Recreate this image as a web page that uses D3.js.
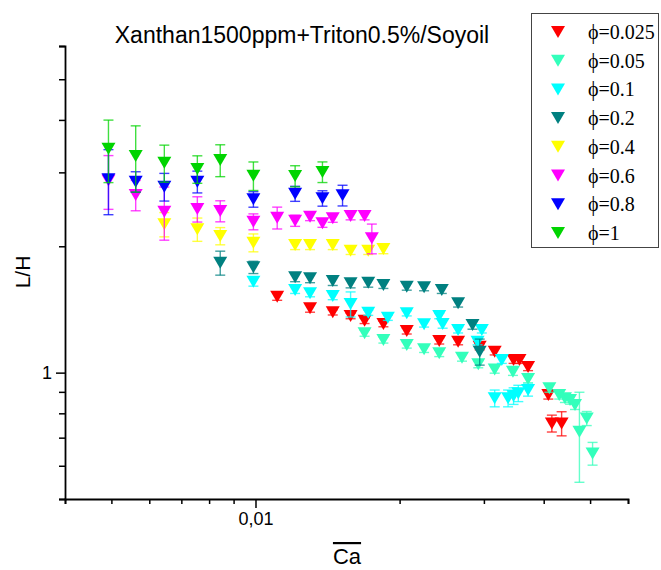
<!DOCTYPE html>
<html>
<head>
<meta charset="utf-8">
<script src="https://cdn.jsdelivr.net/npm/d3@7"></script>
<style>
  body { margin: 0; background: #fff; }
  svg { display: block; }
</style>
</head>
<body>
<div class="svg-container"></div>
<script>
// ---- data ----
var phiLabels = ["ϕ=0.025", "ϕ=0.05", "ϕ=0.1", "ϕ=0.2", "ϕ=0.4", "ϕ=0.6", "ϕ=0.8", "ϕ=1"];
var phiColors = ["#ff0000", "#33ffbb", "#00ffff", "#008080", "#ffff00", "#ff00ff", "#0000ff", "#00d400"];

var ca025 = [0.0111, 0.0130, 0.0145, 0.0158, 0.0169, 0.0185, 0.0207, 0.0242, 0.0265, 0.0294, 0.0316, 0.0346, 0.0356, 0.0371, 0.0409, 0.0416, 0.0436];
var lh025 = [1.517, 1.423, 1.392, 1.364, 1.329, 1.306, 1.256, 1.190, 1.185, 1.153, 1.122, 1.072, 1.072, 1.031, 0.885, 0.757, 0.757];
var err025 = [0.03, 0.03, 0.02, 0.02, 0.02, 0.02, 0.02, 0.02, 0.02, 0.02, 0.02, 0.02, 0.02, 0.02, 0.02, 0.035, 0.05];

var ca05 = [0.0169, 0.0185, 0.0207, 0.0225, 0.0242, 0.0270, 0.0292, 0.0316, 0.0345, 0.0371, 0.0411, 0.0431, 0.0443, 0.0454, 0.0465, 0.0475, 0.0492, 0.0506];
var lh05 = [1.241, 1.196, 1.164, 1.137, 1.112, 1.085, 1.047, 1.017, 1.005, 0.966, 0.918, 0.885, 0.869, 0.861, 0.837, 0.723, 0.778, 0.642];
var err05 = [0.02, 0.02, 0.02, 0.02, 0.02, 0.02, 0.02, 0.02, 0.02, 0.02, 0.02, 0.02, 0.02, 0.02, 0.02, 0.175, 0.03, 0.04];

var ca1 = [0.00990, 0.0121, 0.0130, 0.0145, 0.0158, 0.0172, 0.0189, 0.0207, 0.0225, 0.0242, 0.0246, 0.0265, 0.0291, 0.0297, 0.0327, 0.0316, 0.0337, 0.0346, 0.0354, 0.0371];
var lh1 = [1.647, 1.574, 1.546, 1.522, 1.457, 1.389, 1.352, 1.385, 1.304, 1.364, 1.306, 1.263, 1.185, 1.263, 1.072, 0.869, 0.869, 0.880, 0.893, 0.909];
var err1 = [0.04, 0.03, 0.03, 0.03, 0.10, 0.02, 0.02, 0.02, 0.02, 0.02, 0.03, 0.02, 0.02, 0.02, 0.02, 0.04, 0.04, 0.04, 0.04, 0.03];

var ca2 = [0.00844, 0.00990, 0.0121, 0.0130, 0.0145, 0.0158, 0.0172, 0.0185, 0.0207, 0.0225, 0.0245, 0.0265, 0.0284, 0.0294];
var lh2 = [1.827, 1.782, 1.687, 1.678, 1.653, 1.632, 1.638, 1.617, 1.602, 1.597, 1.574, 1.463, 1.299, 1.122];
var err2 = [0.12, 0.06, 0.04, 0.04, 0.04, 0.04, 0.04, 0.03, 0.03, 0.03, 0.03, 0.03, 0.03, 0.08];

var ca4 = [0.00645, 0.00756, 0.00844, 0.00990, 0.0121, 0.0130, 0.0145, 0.0158, 0.0172, 0.0185];
var lh4 = [2.256, 2.195, 2.116, 2.040, 2.014, 2.014, 2.014, 1.952, 1.952, 1.970];
var err4 = [0.15, 0.14, 0.10, 0.10, 0.05, 0.05, 0.05, 0.04, 0.04, 0.05];

var ca6 = [0.00493, 0.00562, 0.00645, 0.00756, 0.00844, 0.00990, 0.0111, 0.0121, 0.0130, 0.0138, 0.0145, 0.0158, 0.0169, 0.0175];
var lh6 = [2.869, 2.650, 2.418, 2.454, 2.427, 2.289, 2.339, 2.301, 2.352, 2.269, 2.331, 2.362, 2.362, 2.089];
var err6 = [0.42, 0.22, 0.35, 0.17, 0.14, 0.10, 0.14, 0.07, 0.05, 0.05, 0.05, 0.05, 0.05, 0.17];

var ca8 = [0.00493, 0.00562, 0.00645, 0.00756, 0.00990, 0.0121, 0.0138, 0.0152];
var lh8 = [2.888, 2.850, 2.773, 2.850, 2.588, 2.669, 2.602, 2.645];
var err8 = [0.51, 0.16, 0.21, 0.17, 0.11, 0.11, 0.11, 0.15];

var ca10 = [0.00493, 0.00562, 0.00645, 0.00756, 0.00844, 0.00990, 0.0121, 0.0138];
var lh10 = [3.416, 3.282, 3.163, 3.055, 3.210, 2.946, 2.941, 3.007];
var err10 = [0.58, 0.59, 0.32, 0.23, 0.28, 0.23, 0.17, 0.17];

var xTicks = [0.004, 0.005, 0.006, 0.007, 0.008, 0.009, 0.01, 0.02, 0.03, 0.04, 0.05, 0.06];
var yTicks = [0.5, 0.6, 0.7, 0.8, 0.9, 1, 2, 3, 4, 5, 6];

// build series table
var allCa = [ca025, ca05, ca1, ca2, ca4, ca6, ca8, ca10];
var allLh = [lh025, lh05, lh1, lh2, lh4, lh6, lh8, lh10];
var allErr = [err025, err05, err1, err2, err4, err6, err8, err10];
var series = phiLabels.map(function(lab, i) {
  return {
    name: lab,
    color: phiColors[i],
    points: allCa[i].map(function(c, j) { return {ca: c, lh: allLh[i][j], err: allErr[i][j]}; })
  };
});

var W = 661, H = 570;
var svg = d3.select(".svg-container").append("svg")
  .attr("width", W).attr("height", H);

// scales (log both ways)
var x = d3.scaleLog().domain([0.004, 0.06]).range([65, 628]);
var y = d3.scaleLog().domain([0.5, 6]).range([499, 46]);

// x axis
var gx = svg.append("g")
  .attr("transform", "translate(0,499)")
  .call(d3.axisBottom(x).tickValues(xTicks).tickSizeOuter(0).tickSize(5)
    .tickFormat(function(d) { return d === 0.01 ? "0,01" : ""; }));
gx.select(".domain").attr("stroke-width", 1.8);
gx.selectAll(".tick line").attr("stroke-width", 1.5)
  .attr("y2", function(d) { return d === 0.01 ? 9 : 5; });
gx.selectAll(".tick text").attr("y", 13)
  .style("font-family", "Arial, 'Liberation Sans', sans-serif").style("font-size", "18px").attr("fill", "#000");

// y axis
var gy = svg.append("g")
  .attr("transform", "translate(65,0)")
  .call(d3.axisLeft(y).tickValues(yTicks).tickSizeOuter(0).tickSize(6)
    .tickFormat(function(d) { return d === 1 ? "1" : ""; }));
gy.select(".domain").attr("stroke-width", 1.8);
gy.selectAll(".tick line").attr("stroke-width", 1.5)
  .attr("x2", function(d) { return d === 1 ? -9 : -6; });
gy.selectAll(".tick text").attr("x", -13)
  .style("font-family", "Arial, 'Liberation Sans', sans-serif").style("font-size", "18px").attr("fill", "#000");

// axis titles
svg.append("text")
  .attr("transform", "translate(30,272) rotate(-90)")
  .style("text-anchor", "middle")
  .style("font-family", "Arial, 'Liberation Sans', sans-serif").style("font-size", "21px")
  .text("L/H");

svg.append("text")
  .attr("x", 347).attr("y", 564)
  .style("text-anchor", "middle")
  .style("font-family", "Arial, 'Liberation Sans', sans-serif").style("font-size", "22px")
  .style("text-decoration", "overline")
  .text("Ca");

// title
svg.append("text")
  .attr("x", 302).attr("y", 43)
  .style("text-anchor", "middle")
  .style("font-family", "Arial, 'Liberation Sans', sans-serif").style("font-size", "23px")
  .text("Xanthan1500ppm+Triton0.5%/Soyoil");

// down triangle marker
var tri = "M-7,-6L7,-6L0,6Z";

// draw each series: error bars then markers
series.forEach(function(s) {
  var g = svg.append("g").attr("class", "series");

  var eb = g.selectAll(".err").data(s.points).enter().append("g")
    .attr("class", "err")
    .attr("stroke", s.color)
    .attr("stroke-opacity", 0.75)
    .attr("stroke-width", 1.4);
  eb.append("line")
    .attr("x1", function(d) { return x(d.ca); })
    .attr("x2", function(d) { return x(d.ca); })
    .attr("y1", function(d) { return y(d.lh + d.err); })
    .attr("y2", function(d) { return y(d.lh - d.err); });
  eb.append("line")
    .attr("x1", function(d) { return x(d.ca) - 5; })
    .attr("x2", function(d) { return x(d.ca) + 5; })
    .attr("y1", function(d) { return y(d.lh + d.err); })
    .attr("y2", function(d) { return y(d.lh + d.err); });
  eb.append("line")
    .attr("x1", function(d) { return x(d.ca) - 5; })
    .attr("x2", function(d) { return x(d.ca) + 5; })
    .attr("y1", function(d) { return y(d.lh - d.err); })
    .attr("y2", function(d) { return y(d.lh - d.err); });

  g.selectAll(".pt").data(s.points).enter().append("path")
    .attr("class", "pt")
    .attr("d", tri)
    .attr("transform", function(d) { return "translate(" + x(d.ca) + "," + y(d.lh) + ")"; })
    .style("fill", s.color);
});

// legend
var leg = svg.append("g").attr("class", "legend");
leg.append("rect")
  .attr("x", 531.5).attr("y", 13.5).attr("width", 127).attr("height", 234)
  .attr("fill", "#fff").attr("stroke", "#444").attr("stroke-width", 1);

var rows = leg.selectAll(".row").data(series).enter().append("g")
  .attr("class", "row")
  .attr("transform", function(d, i) { return "translate(0," + (32 + i * 28.7) + ")"; });
rows.append("path")
  .attr("d", tri)
  .attr("transform", "translate(558,0)")
  .style("fill", function(d) { return d.color; });
rows.append("text")
  .attr("x", 588).attr("y", 7)
  .style("font-family", "'Liberation Serif', 'Times New Roman', serif").style("font-size", "20px")
  .text(function(d) { return d.name; });
</script>
</body>
</html>
